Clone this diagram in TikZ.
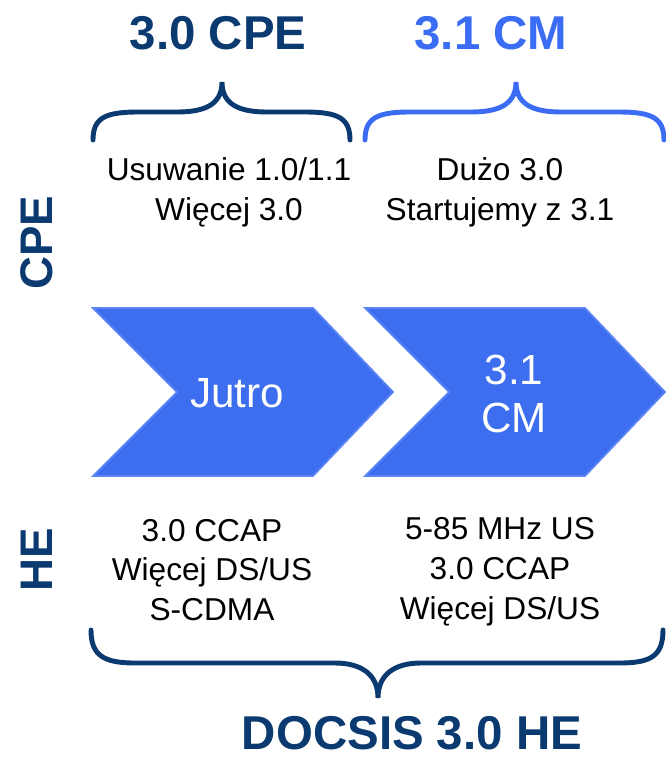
\documentclass[tikz,border=0pt]{standalone}
\usepackage{fontspec}
\setmainfont{Liberation Sans}
\usetikzlibrary{calc}
\definecolor{dunkel}{HTML}{0A3A70}
\definecolor{hell}{HTML}{3B6CF4}
\definecolor{pfeil}{HTML}{3D6EF0}
\definecolor{pfeilrand}{HTML}{5C86F5}
\tikzset{
  klammer/.style={line width=2.8pt,line cap=round},
  titel/.style={dunkel,font=\fontsize{27}{32}\selectfont\bfseries},
  seite/.style={dunkel,rotate=90,font=\fontsize{26}{30}\selectfont\bfseries},
  zeile/.style={align=center,font=\fontsize{18}{22.7}\selectfont},
  winkel/.style={fill=pfeil,draw=pfeilrand,line width=1pt},
  inpfeil/.style={white,align=center,font=\fontsize{24}{27}\selectfont},
}
\begin{document}
\begin{tikzpicture}[x=0.2mm,y=-0.2mm]
  \useasboundingbox (0,0) rectangle (666,761);
  % ===== Überschriften oben =====
  \node[titel] (cpetitel) at (218,33) {3.0 CPE};
  \node[titel,hell] (cmtitel) at (491,33) {3.1 CM};
  % ===== obere Klammern =====
  \foreach \l/\t/\r/\c in {93/222/350/dunkel, 365/516/664/hell}{
    \draw[klammer,\c] (\l,140) .. controls (\l,118) and (\l+12,112) .. (\l+45,112) -- (\t-45,112)
      .. controls (\t-18,112) and (\t,105) .. (\t,82) .. controls (\t,105) and (\t+18,112) .. (\t+45,112)
      -- (\r-45,112) .. controls (\r-12,112) and (\r,118) .. (\r,140);}
  % ===== CPE-Zeile =====
  \node[seite] (cpeseite) at (37,243) {CPE};
  \node[zeile] (usuw) at (229,192) {Usuwanie 1.0/1.1\\Więcej 3.0};
  \node[zeile] (duzo) at (500,192) {Dużo 3.0\\Startujemy z 3.1};
  % ===== Winkelpfeile =====
  \foreach \x in {93,365}{
    \draw[winkel] (\x,308) -- (\x+220,308) -- (\x+300,392) -- (\x+220,476) -- (\x,476) -- (\x+84,392) -- cycle;}
  \node[inpfeil] (jutro) at (237,393) {Jutro};
  \node[inpfeil] (cm31) at (514,394) {3.1\\CM};
  % ===== HE-Zeile =====
  \node[seite] (heseite) at (37,560) {HE};
  \node[zeile] (helinks) at (212,570) {3.0 CCAP\\Więcej DS/US\\S-CDMA};
  \node[zeile] (herechts) at (500,572) {5-85 MHz US\\3.0 CCAP\\Więcej DS/US};
  % ===== untere Klammer =====
  \draw[klammer,dunkel] (91,630) .. controls (91,655) and (103,663) .. (135,663) -- (335,663)
    .. controls (362,663) and (378,675) .. (378,698) .. controls (378,675) and (394,663) .. (421,663)
    -- (620,663) .. controls (652,663) and (663,655) .. (663,630);
  \node[titel,inner sep=1pt] (docsis) at (412,733) {DOCSIS 3.0 HE};
\end{tikzpicture}
\end{document}
